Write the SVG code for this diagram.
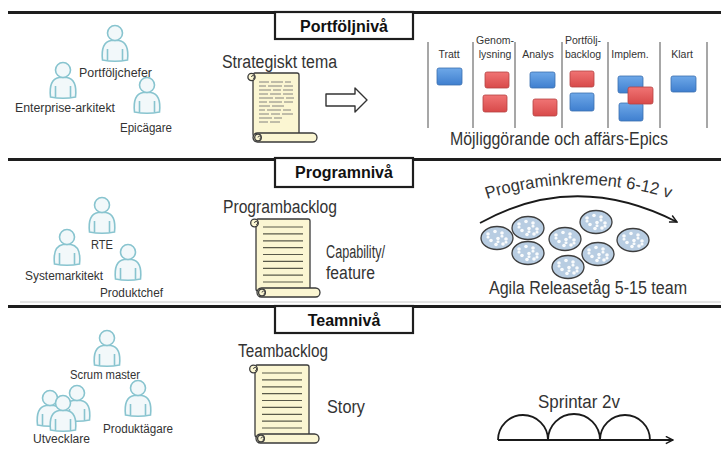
<svg xmlns="http://www.w3.org/2000/svg" xmlns:xlink="http://www.w3.org/1999/xlink" width="721" height="450" viewBox="0 0 721 450">
  <style>
    text { font-family: "Liberation Sans", "DejaVu Sans", sans-serif; fill: #333; }
    .lbl { font-size: 12px; }
    .big { font-size: 18px; }
    .col { font-size: 10.5px; text-anchor: middle; }
    .hdr { font-size: 16px; font-weight: bold; text-anchor: middle; fill: #111; }
    .sep { stroke: #1e1e1e; stroke-width: 3; fill: none; }
    .hbox { fill: #fff; stroke: #1e1e1e; stroke-width: 2.2; }
    .person path, .person circle { fill: #f2f8fa; stroke: #88c4cf; stroke-width: 1.6; }
    .person .arm { fill: none; }
    .paper { fill: #fbf6d2; stroke: #3a3a3a; stroke-width: 1.3; }
    .rule { stroke: #5a5a4a; stroke-width: 1.2; }
    .scrib { stroke: #777; stroke-width: 0.9; fill: none; }
    .kline { stroke: #8a8a8a; stroke-width: 1.5; }
    .blue { fill: url(#gBlue); stroke: #3b6eae; stroke-width: 0.8; }
    .red { fill: url(#gRed); stroke: #b54242; stroke-width: 0.8; }
    .ink { fill: none; stroke: #1a1a1a; stroke-width: 1.8; }
  </style>
  <defs>
    <linearGradient id="gBlue" x1="0" y1="0" x2="0" y2="1">
      <stop offset="0" stop-color="#6ea8e8"/>
      <stop offset="1" stop-color="#3f7fcf"/>
    </linearGradient>
    <linearGradient id="gRed" x1="0" y1="0" x2="0" y2="1">
      <stop offset="0" stop-color="#f07474"/>
      <stop offset="1" stop-color="#d84a4a"/>
    </linearGradient>
    <marker id="openArrow" viewBox="0 0 10 10" refX="9" refY="5" markerWidth="9" markerHeight="9" markerUnits="userSpaceOnUse" orient="auto">
      <path d="M1,1 L9,5 L1,9" fill="none" stroke="#1a1a1a" stroke-width="1.6"/>
    </marker>
    <!-- person icon, head centred on the origin -->
    <g id="person" class="person">
      <path d="M-12.5,27 C-13.5,18 -12,9 -4,7.5 L4,7.5 C12,9 13.5,18 12.5,27 C5,28.5 -5,28.5 -12.5,27 Z"/>
      <path class="arm" d="M-7.5,16 L-7.5,27 M7.5,16 L7.5,27"/>
      <circle cx="0" cy="0" r="7.5"/>
    </g>
    <!-- lined backlog scroll -->
    <g id="backlog">
      <rect class="paper" x="6" y="1" width="54" height="72" rx="2"/>
      <circle class="paper" cx="4.5" cy="5" r="3.8"/>
      <path d="M4.5,5 a1.6,1.6 0 1 1 1.6,1.6" fill="none" stroke="#3a3a3a" stroke-width="0.9"/>
      <g class="rule">
        <line x1="13" y1="9" x2="53" y2="9"/>
        <line x1="13" y1="15.9" x2="53" y2="15.9"/>
        <line x1="13" y1="22.8" x2="53" y2="22.8"/>
        <line x1="13" y1="29.6" x2="53" y2="29.6"/>
        <line x1="13" y1="36.5" x2="53" y2="36.5"/>
        <line x1="13" y1="43.4" x2="53" y2="43.4"/>
        <line x1="13" y1="50.3" x2="53" y2="50.3"/>
        <line x1="13" y1="57.1" x2="53" y2="57.1"/>
        <line x1="13" y1="64" x2="53" y2="64"/>
      </g>
      <rect class="paper" x="7" y="70" width="63" height="9" rx="4.5"/>
      <circle class="paper" cx="12" cy="74.5" r="3.4"/>
      <path d="M12,74.5 a1.5,1.5 0 1 1 1.5,1.5" fill="none" stroke="#3a3a3a" stroke-width="0.9"/>
    </g>
    <!-- agile team cluster -->
    <g id="team">
      <ellipse cx="0" cy="0" rx="16" ry="11.5" fill="#b8cde2" stroke="#3d3d3d" stroke-width="1.3"/>
      <g fill="#ffffff" opacity="0.92">
        <circle cx="-9" cy="-4" r="1.8"/><circle cx="-2" cy="-6.5" r="1.8"/><circle cx="5" cy="-5" r="1.8"/>
        <circle cx="-6" cy="2.5" r="1.8"/><circle cx="1" cy="0.5" r="1.8"/><circle cx="9" cy="1" r="1.8"/>
        <circle cx="-1" cy="6.5" r="1.8"/><circle cx="6" cy="6" r="1.8"/>
        <rect x="-10.5" y="-2" width="3" height="2.5" rx="1"/><rect x="3.5" y="-3" width="3" height="2.5" rx="1"/>
        <rect x="-0.5" y="2.5" width="3" height="2.5" rx="1"/><rect x="7.5" y="3" width="3" height="2.5" rx="1"/>
      </g>
    </g>
  </defs>

  <!-- level separators -->
  <g id="separators">
    <line class="sep" x1="8" y1="12.5" x2="721" y2="12.5"/>
    <line class="sep" x1="8" y1="159.5" x2="721" y2="159.5"/>
    <line x1="20" y1="302" x2="721" y2="302" stroke="#c8c8c8" stroke-width="1"/>
    <line class="sep" x1="8" y1="306.5" x2="721" y2="306.5"/>
  </g>

  <!-- level headings -->
  <g id="hdr-portfolio">
    <rect class="hbox" x="275" y="12" width="138" height="27"/>
    <text class="hdr" x="344" y="32">Portföljnivå</text>
  </g>
  <g id="hdr-program">
    <rect class="hbox" x="275" y="158" width="138" height="29"/>
    <text class="hdr" x="344" y="178">Programnivå</text>
  </g>
  <g id="hdr-team">
    <rect class="hbox" x="275" y="306" width="138" height="27"/>
    <text class="hdr" x="344" y="326">Teamnivå</text>
  </g>

  <!-- portfolio roles -->
  <g id="portfoljchefer">
    <use xlink:href="#person" x="115" y="33"/>
    <text class="lbl" x="79" y="77" textLength="73" lengthAdjust="spacingAndGlyphs">Portföljchefer</text>
  </g>
  <g id="enterprise-arkitekt">
    <use xlink:href="#person" x="63" y="70"/>
    <text class="lbl" x="15" y="112" textLength="100" lengthAdjust="spacingAndGlyphs">Enterprise-arkitekt</text>
  </g>
  <g id="epicagare">
    <use xlink:href="#person" x="147" y="85"/>
    <text class="lbl" x="120" y="132" textLength="52" lengthAdjust="spacingAndGlyphs">Epicägare</text>
  </g>

  <!-- strategic theme scroll -->
  <g id="strategiskt-tema">
    <text class="big" x="222" y="68" textLength="115" lengthAdjust="spacingAndGlyphs">Strategiskt tema</text>
    <g transform="translate(247,72)">
      <rect class="paper" x="6" y="1" width="46" height="63" rx="2"/>
      <circle class="paper" cx="4.5" cy="5" r="3.6"/>
      <path d="M4.5,5 a1.5,1.5 0 1 1 1.5,1.5" fill="none" stroke="#3a3a3a" stroke-width="0.9"/>
      <path class="scrib" d="M12,10 h10 m2,0 h12 m2,0 h6
        M12,14 h7 m2,0 h14 m2,0 h9
        M12,18 h12 m2,0 h8 m2,0 h10
        M12,22 h9 m2,0 h11 m2,0 h10
        M12,26 h14 m2,0 h9 m2,0 h8
        M12,30 h8 m2,0 h13 m2,0 h9
        M12,34 h11 m2,0 h12
        M12,38 h6 m2,0 h14 m2,0 h8
        M12,42 h10 m2,0 h9 m2,0 h11
        M12,46 h13 m2,0 h8
        M12,50 h9 m2,0 h10"/>
      <rect class="paper" x="6" y="61" width="64" height="9" rx="4.5"/>
      <circle class="paper" cx="11" cy="65.5" r="3.3"/>
      <path d="M11,65.5 a1.4,1.4 0 1 1 1.4,1.4" fill="none" stroke="#3a3a3a" stroke-width="0.9"/>
    </g>
  </g>

  <!-- block arrow towards the kanban -->
  <g id="flow-arrow">
    <polygon points="326,94 355,94 355,88 367,100 355,112 355,106 326,106" fill="#fff" stroke="#333" stroke-width="1.4" stroke-linejoin="round"/>
  </g>

  <!-- portfolio kanban -->
  <g id="kanban">
    <g class="kline">
      <line x1="428" y1="42" x2="428" y2="128"/>
      <line x1="473" y1="42" x2="473" y2="128"/>
      <line x1="515" y1="42" x2="515" y2="128"/>
      <line x1="562" y1="42" x2="562" y2="128"/>
      <line x1="608" y1="42" x2="608" y2="128"/>
      <line x1="660" y1="42" x2="660" y2="128"/>
      <line x1="707" y1="42" x2="707" y2="128"/>
    </g>
    <text class="col" x="449" y="58">Tratt</text>
    <text class="col" x="495" y="44">Genom-</text>
    <text class="col" x="495" y="58">lysning</text>
    <text class="col" x="538" y="58">Analys</text>
    <text class="col" x="583" y="44">Portfölj-</text>
    <text class="col" x="583" y="58">backlog</text>
    <text class="col" x="630" y="58">Implem.</text>
    <text class="col" x="682" y="58">Klart</text>
    <rect class="blue" x="437" y="68" width="25" height="17" rx="2"/>
    <rect class="red" x="485" y="72" width="24" height="16" rx="2"/>
    <rect class="red" x="483" y="95" width="24" height="17" rx="2"/>
    <rect class="blue" x="530" y="72" width="25" height="16" rx="2"/>
    <rect class="red" x="533" y="99" width="24" height="17" rx="2"/>
    <rect class="red" x="570" y="71" width="24" height="16" rx="2"/>
    <rect class="blue" x="570" y="93" width="24" height="18" rx="2"/>
    <rect class="blue" x="618" y="76" width="25" height="17" rx="2"/>
    <rect class="blue" x="619" y="103" width="24" height="18" rx="2"/>
    <rect class="red" x="628" y="87" width="25" height="17" rx="2"/>
    <rect class="blue" x="671" y="76" width="25" height="16" rx="2"/>
    <text class="big" x="450" y="145" textLength="218" lengthAdjust="spacingAndGlyphs">Möjliggörande och affärs-Epics</text>
  </g>

  <!-- program roles -->
  <g id="rte">
    <use xlink:href="#person" x="102" y="205"/>
    <text class="lbl" x="91" y="249" textLength="22" lengthAdjust="spacingAndGlyphs">RTE</text>
  </g>
  <g id="systemarkitekt">
    <use xlink:href="#person" x="67" y="237"/>
    <text class="lbl" x="25" y="280" textLength="78" lengthAdjust="spacingAndGlyphs">Systemarkitekt</text>
  </g>
  <g id="produktchef">
    <use xlink:href="#person" x="128" y="252"/>
    <text class="lbl" x="100" y="297" textLength="63" lengthAdjust="spacingAndGlyphs">Produktchef</text>
  </g>

  <!-- program backlog -->
  <g id="programbacklog">
    <text class="big" x="223" y="213" textLength="114" lengthAdjust="spacingAndGlyphs">Programbacklog</text>
    <use xlink:href="#backlog" x="250" y="218"/>
    <text class="big" x="326" y="258" textLength="59" lengthAdjust="spacingAndGlyphs">Capability/</text>
    <text class="big" x="326" y="279" textLength="49" lengthAdjust="spacingAndGlyphs">feature</text>
  </g>

  <!-- agile release train -->
  <g id="release-train">
    <path id="piLabelPath" d="M487,199 Q577,170 672,199" fill="none" stroke="none"/>
    <text class="big" style="font-size:17px"><textPath xlink:href="#piLabelPath" textLength="186" lengthAdjust="spacingAndGlyphs">Programinkrement 6-12 v</textPath></text>
    <use xlink:href="#team" x="497" y="238"/>
    <use xlink:href="#team" x="528" y="228"/>
    <use xlink:href="#team" x="565" y="239"/>
    <use xlink:href="#team" x="596" y="222"/>
    <use xlink:href="#team" x="633" y="240"/>
    <use xlink:href="#team" x="528" y="253"/>
    <use xlink:href="#team" x="598" y="254"/>
    <use xlink:href="#team" x="568" y="267"/>
    <text class="big" x="489" y="294" textLength="198" lengthAdjust="spacingAndGlyphs">Agila Releasetåg 5-15 team</text>
  </g>

  <!-- team roles -->
  <g id="scrum-master">
    <use xlink:href="#person" x="107" y="338"/>
    <text class="lbl" x="70" y="379" textLength="70" lengthAdjust="spacingAndGlyphs">Scrum master</text>
  </g>
  <g id="produktagare">
    <use xlink:href="#person" x="138" y="388"/>
    <text class="lbl" x="103" y="433" textLength="70" lengthAdjust="spacingAndGlyphs">Produktägare</text>
  </g>
  <g id="utvecklare">
    <use xlink:href="#person" x="77" y="393"/>
    <use xlink:href="#person" x="50" y="398"/>
    <use xlink:href="#person" x="63" y="403"/>
    <text class="lbl" x="33" y="443" textLength="57" lengthAdjust="spacingAndGlyphs">Utvecklare</text>
  </g>

  <!-- team backlog -->
  <g id="teambacklog">
    <text class="big" x="238" y="357" textLength="90" lengthAdjust="spacingAndGlyphs">Teambacklog</text>
    <use xlink:href="#backlog" x="249" y="364"/>
    <text class="big" x="327" y="413" textLength="38" lengthAdjust="spacingAndGlyphs">Story</text>
  </g>

  <!-- sprints -->
  <g id="sprintar">
    <text class="big" x="538" y="408" textLength="82" lengthAdjust="spacingAndGlyphs">Sprintar 2v</text>
  </g>

  <!-- connectors -->
  <g id="connectors">
    <path class="ink" d="M480,223 Q575,170 677,222" marker-end="url(#openArrow)"/>
    <path class="ink" d="M498,440 A25,25 0 0 1 548,440 A26,26 0 0 1 600,440 A25,25 0 0 1 650,440"/>
    <path class="ink" d="M498,440 L673,440" marker-end="url(#openArrow)"/>
  </g>
</svg>
